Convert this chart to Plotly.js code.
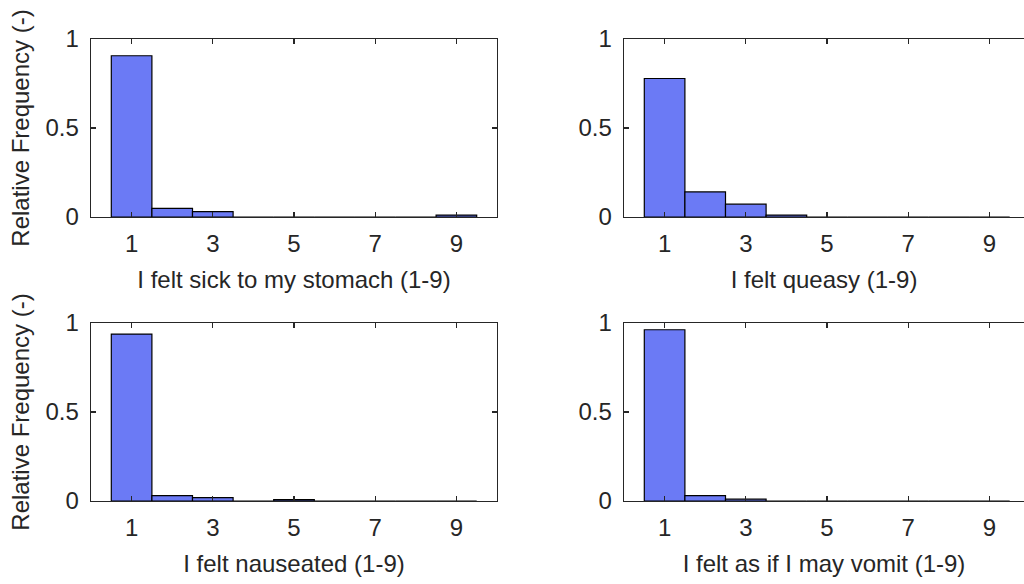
<!DOCTYPE html>
<html>
<head>
<meta charset="utf-8">
<script src="https://cdn.plot.ly/plotly-3.0.1.min.js"></script>
<style>
  html, body { margin: 0; padding: 0; background: #fff; }
  #chart { width: 1024px; height: 584px; }
</style>
</head>
<body>
<div id="chart"></div>
<script>
// rating scale 1-9
var scores = [1, 2, 3, 4, 5, 6, 7, 8, 9];
var tickVals = [1, 3, 5, 7, 9];
var tickText = ['1', '3', '5', '7', '9'];

// relative frequencies
var sick = [0.906, 0.049, 0.030, 0, 0, 0, 0, 0, 0.011];
var queasy = [0.778, 0.141, 0.072, 0.011, 0, 0, 0, 0, 0];
var nauseated = [0.938, 0.030, 0.019, 0, 0.008, 0, 0, 0, 0];
var vomit = [0.962, 0.030, 0.010, 0, 0, 0, 0, 0, 0];

var xTitles = [
  'I felt sick to my stomach (1-9)',
  'I felt queasy (1-9)',
  'I felt nauseated (1-9)',
  'I felt as if I may vomit (1-9)'
];
var series = [sick, queasy, nauseated, vomit];

var ink = '#262626';
var fnt = { family: 'Liberation Sans, Arial, sans-serif', size: 24, color: ink };

var data = series.map(function (vals, i) {
  return {
    x: scores,
    y: vals,
    type: 'bar',
    width: 1,
    xaxis: i === 0 ? 'x' : 'x' + (i + 1),
    yaxis: i === 0 ? 'y' : 'y' + (i + 1),
    marker: {
      color: '#6b7af5',
      line: { color: '#000', width: 1.2 }
    },
    hoverinfo: 'x+y'
  };
});

var leftDom = [91 / 1024, 497 / 1024];
var rightDom = [624 / 1024, 1];
var topDom = [1 - 217 / 584, 1 - 39 / 584];
var botDom = [1 - 501 / 584, 1 - 323 / 584];

function xAx(dom, anchor, title, right) {
  return {
    domain: dom,
    anchor: anchor,
    range: right ? [0, 400 / 40.6] : [0, 10],
    tickvals: tickVals,
    ticktext: tickText,
    ticks: 'inside',
    ticklen: 5,
    tickwidth: 1.2,
    tickcolor: ink,
    showline: true,
    linecolor: ink,
    linewidth: 1.3,
    mirror: 'ticks',
    showgrid: false,
    zeroline: false,
    tickfont: fnt,
    ticklabelstandoff: 5,
    title: { text: title, font: fnt, standoff: 15 },
    fixedrange: true
  };
}

function yAx(dom, anchor, left) {
  return {
    domain: dom,
    anchor: anchor,
    range: [0, 1],
    tickvals: [0, 0.5, 1],
    ticktext: ['0', '0.5', '1'],
    ticks: 'inside',
    ticklen: 5,
    tickwidth: 1.2,
    tickcolor: ink,
    showline: true,
    linecolor: ink,
    linewidth: 1.3,
    mirror: left ? 'ticks' : false,
    showgrid: false,
    zeroline: false,
    tickfont: fnt,
    ticklabelstandoff: 6,
    title: left ? { text: 'Relative Frequency (-)', font: fnt, standoff: 9 } : { text: '' },
    fixedrange: true
  };
}

var layout = {
  width: 1024,
  height: 584,
  margin: { l: 0, r: 0, t: 0, b: 0 },
  paper_bgcolor: '#fff',
  plot_bgcolor: '#fff',
  showlegend: false,
  bargap: 0,
  font: fnt,
  xaxis: xAx(leftDom, 'y', xTitles[0], false),
  yaxis: yAx(topDom, 'x', true),
  xaxis2: xAx(rightDom, 'y2', xTitles[1], true),
  yaxis2: yAx(topDom, 'x2', false),
  xaxis3: xAx(leftDom, 'y3', xTitles[2], false),
  yaxis3: yAx(botDom, 'x3', true),
  xaxis4: xAx(rightDom, 'y4', xTitles[3], true),
  yaxis4: yAx(botDom, 'x4', false)
};

Plotly.newPlot('chart', data, layout, { displayModeBar: false, staticPlot: true });
</script>
</body>
</html>
